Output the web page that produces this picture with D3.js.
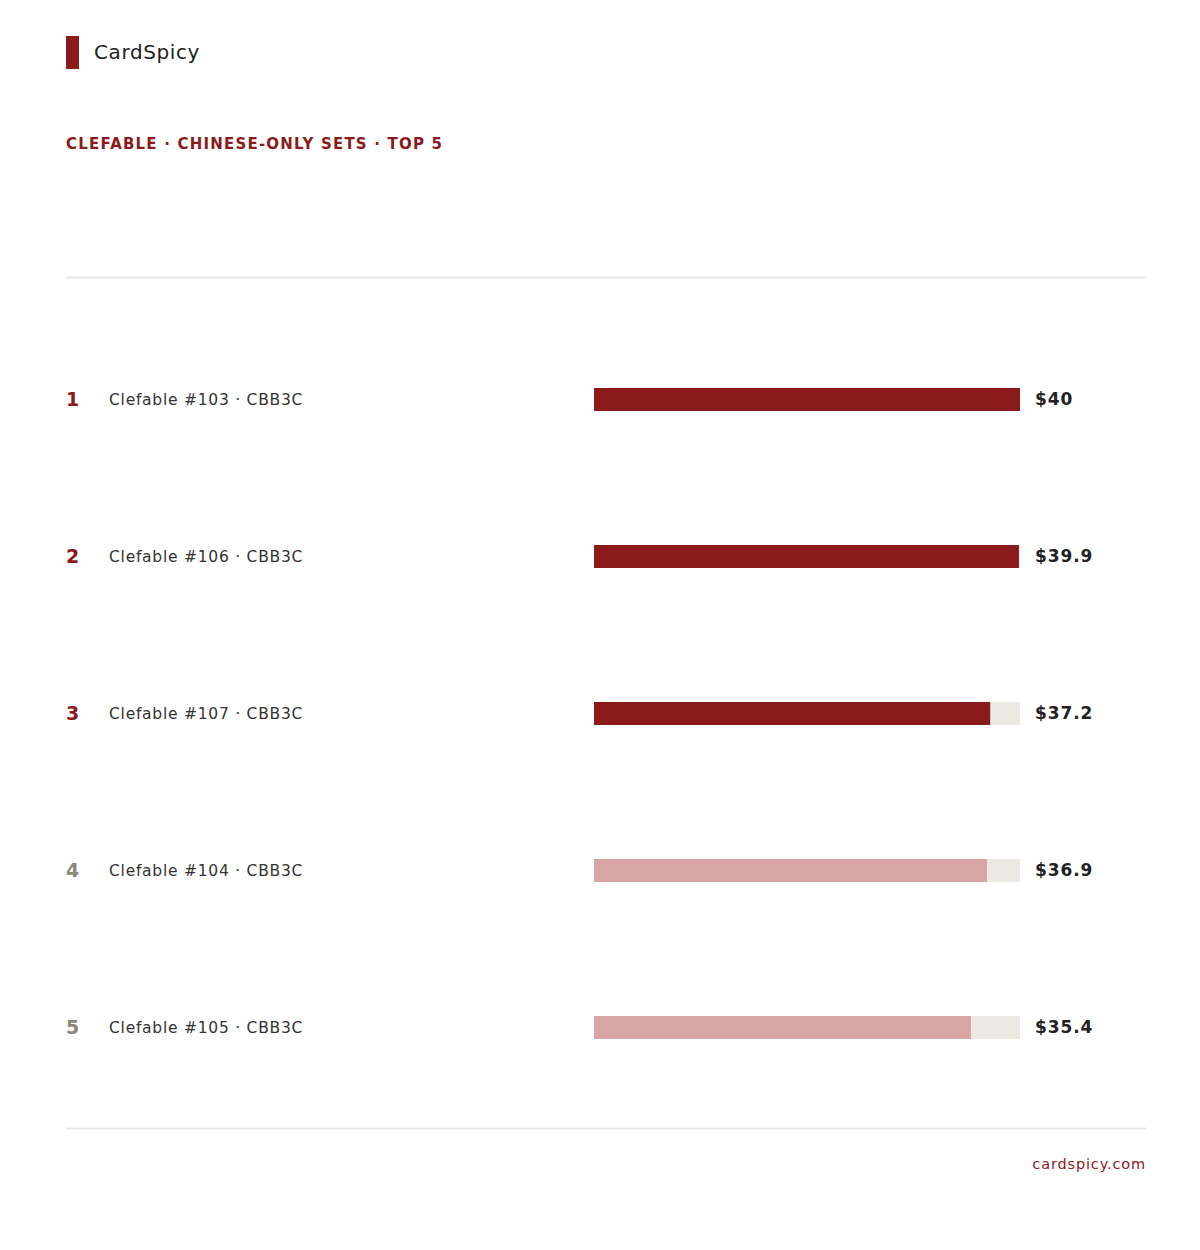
<!DOCTYPE html>
<html><head><meta charset="utf-8">
<script src="https://cdn.jsdelivr.net/npm/d3@7/dist/d3.min.js"></script>
<style>body{margin:0;background:#fff;} svg{display:block;font-family:"DejaVu Sans",sans-serif;}</style>
</head><body>
<script>
const ranks = [1, 2, 3, 4, 5];
const cards = ["Clefable #103 · CBB3C","Clefable #106 · CBB3C","Clefable #107 · CBB3C","Clefable #104 · CBB3C","Clefable #105 · CBB3C"];
const prices = [40, 39.9, 37.2, 36.9, 35.4];
const priceLabels = ["$40","$39.9","$37.2","$36.9","$35.4"];
const highlightCount = 3;

const W = 1200, H = 1250;
const svg = d3.select("body").append("svg").attr("width", W).attr("height", H);
const red = "#8b1a1a";

svg.append("rect").attr("x",66).attr("y",36).attr("width",13).attr("height",33).attr("fill",red);
svg.append("text").attr("x",94).attr("y",58.5).attr("font-size",20).attr("fill","#222").attr("letter-spacing",0.6).text("CardSpicy");
svg.append("text").attr("x",66).attr("y",148.5).attr("font-size",15).attr("font-weight","bold").attr("fill",red).attr("letter-spacing",1.2).text("CLEFABLE · CHINESE-ONLY SETS · TOP 5");

svg.append("line").attr("x1",66).attr("x2",1146).attr("y1",277.5).attr("y2",277.5).attr("stroke","#ebe8e3").attr("stroke-width",2);
svg.append("line").attr("x1",66).attr("x2",1146).attr("y1",1128.5).attr("y2",1128.5).attr("stroke","#ebe8e3").attr("stroke-width",2);

const y = d3.scalePoint().domain(ranks).range([399.5, 1027.5]);
const x = d3.scaleLinear().domain([0, 40]).range([594, 1020]);
const bh = 23;

const g = svg.append("g");
const rows = g.selectAll("g.row").data(ranks.map((r,i)=>({r, name:cards[i], v:prices[i], lab:priceLabels[i], i}))).join("g").attr("class","row");
rows.append("text").attr("x",66).attr("y",d=>y(d.r)).attr("dy","0.35em").attr("font-size",19).attr("font-weight","bold")
  .attr("fill",d=>d.i<highlightCount?red:"#8a877d").text(d=>d.r);
rows.append("text").attr("x",109).attr("y",d=>y(d.r)).attr("dy","0.35em").attr("font-size",15.5).attr("fill","#333").attr("letter-spacing",0.75).text(d=>d.name);
rows.append("rect").attr("x",x(0)).attr("y",d=>y(d.r)-bh/2).attr("width",x(40)-x(0)).attr("height",bh).attr("fill","#ece9e2");
rows.append("rect").attr("x",x(0)).attr("y",d=>y(d.r)-bh/2).attr("width",d=>x(d.v)-x(0)).attr("height",bh)
  .attr("fill",d=>d.i<highlightCount?red:"#d7a5a3");
rows.append("text").attr("x",1035).attr("y",d=>y(d.r)).attr("dy","0.35em").attr("font-size",17).attr("font-weight","bold").attr("fill","#222").attr("letter-spacing",0.9).text(d=>d.lab);

svg.append("text").attr("x",1146).attr("y",1169).attr("text-anchor","end").attr("font-size",14.5).attr("fill",red).attr("letter-spacing",0.85).text("cardspicy.com");
</script>
</body></html>
